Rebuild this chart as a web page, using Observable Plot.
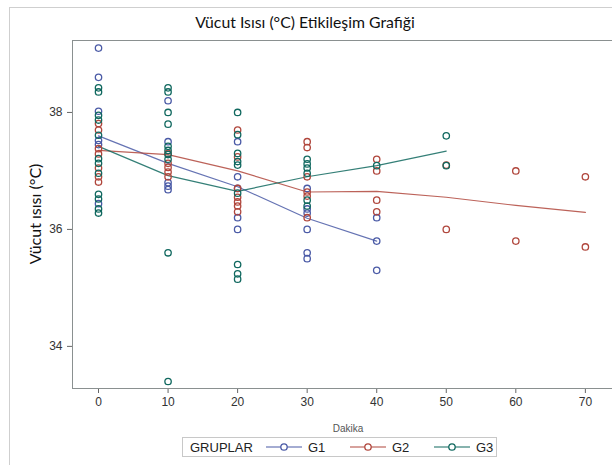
<!DOCTYPE html>
<html>
<head>
<meta charset="utf-8">
<script src="https://cdn.jsdelivr.net/npm/d3@7"></script>
<script src="https://cdn.jsdelivr.net/npm/@observablehq/plot@0.6"></script>
<style>
  html, body { margin: 0; padding: 0; background: #fff; }
  #chart { width: 612px; height: 465px; }
  svg { display: block; }
</style>
</head>
<body>
<div id="chart"></div>
<script>
// Observed body temperatures per group: [minute, °C]
const g1Obs = [
  [0, 39.1], [0, 38.6], [0, 38.02], [0, 37.52], [0, 37.45], [0, 36.44],
  [10, 38.2], [10, 37.5], [10, 36.8], [10, 36.74], [10, 36.68],
  [20, 37.5], [20, 36.9], [20, 36.7], [20, 36.2], [20, 36.0],
  [30, 36.7], [30, 36.35], [30, 36.28], [30, 36.0], [30, 35.6], [30, 35.5],
  [40, 36.2], [40, 35.8], [40, 35.3]
];
const g2Obs = [
  [0, 37.81], [0, 37.7], [0, 37.38], [0, 37.29], [0, 37.05], [0, 36.9], [0, 36.81],
  [10, 37.3], [10, 37.13], [10, 37.06], [10, 36.98], [10, 36.9],
  [20, 37.7], [20, 37.24], [20, 36.7], [20, 36.55], [20, 36.47], [20, 36.4], [20, 36.3],
  [30, 37.5], [30, 37.4], [30, 36.9], [30, 36.64], [30, 36.57], [30, 36.2],
  [40, 37.2], [40, 37.0], [40, 36.5], [40, 36.3],
  [50, 37.1], [50, 36.0],
  [60, 37.0], [60, 35.8],
  [70, 36.9], [70, 35.7]
];
const g3Obs = [
  [0, 38.42], [0, 38.35], [0, 37.95], [0, 37.87], [0, 37.61], [0, 37.21], [0, 37.13],
  [0, 36.96], [0, 36.6], [0, 36.52], [0, 36.35], [0, 36.28],
  [10, 38.42], [10, 38.35], [10, 38.0], [10, 37.8], [10, 37.42], [10, 37.35],
  [10, 37.28], [10, 37.2], [10, 35.6], [10, 33.4],
  [20, 38.0], [20, 37.62], [20, 37.3], [20, 37.16], [20, 37.1], [20, 36.62],
  [20, 35.4], [20, 35.24], [20, 35.15],
  [30, 37.2], [30, 37.12], [30, 37.05], [30, 36.96], [30, 36.5], [30, 36.4],
  [40, 37.09],
  [50, 37.6], [50, 37.09]
];

// Group mean profiles over time
const g1Minutes = [0, 10, 20, 30, 40];
const g1Mean = [37.6, 37.13, 36.73, 36.19, 35.8];
const g2Minutes = [0, 10, 20, 30, 40, 50, 60, 70];
const g2Mean = [37.35, 37.28, 37.0, 36.64, 36.65, 36.55, 36.41, 36.29];
const g3Minutes = [0, 10, 20, 30, 40, 50];
const g3Mean = [37.42, 36.92, 36.65, 36.9, 37.09, 37.34];

const groups = ["G1", "G2", "G3"];
const groupColors = ["#4a5aa6", "#b0463c", "#10685f"];
const xTicks = [0, 10, 20, 30, 40, 50, 60, 70];
const yTicks = [34, 36, 38];

const chartTitle = "Vücut Isısı (°C) Etikileşim Grafiği";
const yLabel = "Vücut ısısı (°C)";
const xLabel = "Dakika";
const legendTitle = "GRUPLAR";

// Tidy tables for the marks
const points = [
  ...g1Obs.map(([t, v]) => ({t, v, g: "G1"})),
  ...g2Obs.map(([t, v]) => ({t, v, g: "G2"})),
  ...g3Obs.map(([t, v]) => ({t, v, g: "G3"}))
];
const means = [
  ...g1Minutes.map((t, i) => ({t, v: g1Mean[i], g: "G1"})),
  ...g2Minutes.map((t, i) => ({t, v: g2Mean[i], g: "G2"})),
  ...g3Minutes.map((t, i) => ({t, v: g3Mean[i], g: "G3"}))
];

const plot = Plot.plot({
  width: 612,
  height: 465,
  marginLeft: 72,
  marginRight: 0,
  marginTop: 40,
  marginBottom: 77,
  style: {fontFamily: "'Liberation Sans', Arial, sans-serif", fontSize: "12px", color: "#333", background: "transparent"},
  x: {domain: [-3.74, 73.9]},
  y: {domain: [33.28, 39.23]},
  color: {domain: groups, range: groupColors},
  marks: [
    Plot.axisX({ticks: xTicks, tickSize: 5, tickPadding: 4, fontSize: 12, label: null, stroke: "#666", fill: "#333", tickFormat: d => String(d)}),
    Plot.axisY({ticks: yTicks, tickSize: 5, tickPadding: 5, fontSize: 12, label: null, stroke: "#666", fill: "#333", tickFormat: d => String(d)}),
    Plot.line(means, {x: "t", y: "v", z: "g", stroke: "g", strokeWidth: 1.2, strokeOpacity: 0.85}),
    Plot.dot(points, {x: "t", y: "v", stroke: "g", r: 3.2, strokeWidth: 1.3, fill: "none"})
  ]
});

document.getElementById("chart").appendChild(plot);

// Frame, titles and legend drawn on the same SVG
const svg = d3.select(plot);
const xs = plot.scale("x"), ys = plot.scale("y");
const [plotLeft, plotRight] = xs.range;
const [plotBottom, plotTop] = ys.range;

// outer border
svg.insert("rect", ":first-child")
  .attr("x", 9.5).attr("y", 7.5).attr("width", 640).attr("height", 470)
  .attr("fill", "#fff").attr("stroke", "#cfcfcf");

const frame = svg.append("g").attr("stroke", "#8a9090").attr("fill", "none");
frame.append("line").attr("x1", plotLeft).attr("x2", 612).attr("y1", plotTop + 0.5).attr("y2", plotTop + 0.5);
frame.append("line").attr("x1", plotLeft + 0.5).attr("x2", plotLeft + 0.5).attr("y1", plotTop).attr("y2", plotBottom);
frame.append("line").attr("x1", plotLeft).attr("x2", 612).attr("y1", plotBottom + 0.5).attr("y2", plotBottom + 0.5);

svg.append("text")
  .attr("x", 305).attr("y", 28)
  .attr("text-anchor", "middle")
  .attr("font-family", "Lato, 'Open Sans', sans-serif")
  .attr("font-size", 15.8).attr("fill", "#111")
  .text(chartTitle);

svg.append("text")
  .attr("transform", `translate(41,${(plotTop + plotBottom) / 2}) rotate(-90)`)
  .attr("text-anchor", "middle")
  .attr("font-family", "Lato, 'Open Sans', sans-serif")
  .attr("font-size", 16).attr("fill", "#111")
  .text(yLabel);

svg.append("text")
  .attr("x", (plotLeft + plotRight) / 2 + 6).attr("y", 432)
  .attr("text-anchor", "middle")
  .attr("font-family", "'Liberation Sans', Arial, sans-serif")
  .attr("font-size", 10).attr("fill", "#555")
  .text(xLabel);

// legend
const lg = svg.append("g").attr("text-anchor", "start");
lg.append("rect").attr("x", 182.5).attr("y", 437.5).attr("width", 314).attr("height", 19)
  .attr("fill", "#fff").attr("stroke", "#c8c8c8");
lg.append("text").attr("x", 190).attr("y", 452)
  .attr("text-anchor", "start")
  .attr("font-family", "'Liberation Sans', Arial, sans-serif")
  .attr("font-size", 13).attr("fill", "#222").text(legendTitle);
groups.forEach((g, i) => {
  const x0 = 266 + i * 84;
  const c = groupColors[i];
  lg.append("line").attr("x1", x0).attr("x2", x0 + 36).attr("y1", 447).attr("y2", 447)
    .attr("stroke", c).attr("stroke-width", 1.2);
  lg.append("circle").attr("cx", x0 + 18).attr("cy", 447).attr("r", 3.2)
    .attr("fill", "#fff").attr("stroke", c).attr("stroke-width", 1.3);
  lg.append("text").attr("x", x0 + 42).attr("y", 452)
    .attr("text-anchor", "start")
    .attr("font-family", "'Liberation Sans', Arial, sans-serif")
    .attr("font-size", 13).attr("fill", "#222").text(g);
});
</script>
</body>
</html>
